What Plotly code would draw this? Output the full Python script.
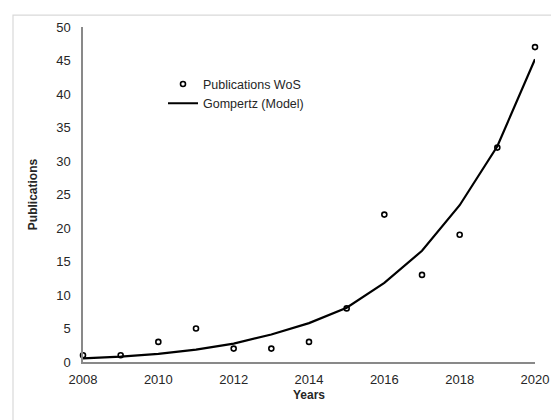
import plotly.graph_objects as go

years = [2008, 2009, 2010, 2011, 2012, 2013, 2014, 2015, 2016, 2017, 2018, 2019, 2020]
publications_wos = [1, 1, 3, 5, 2, 2, 3, 8, 22, 13, 19, 32, 47]
gompertz_model = [0.55, 0.8, 1.2, 1.85, 2.75, 4.1, 5.8, 8.1, 11.8, 16.6, 23.4, 32.2, 45.2]

FONT = "Liberation Sans, Arial, Helvetica, sans-serif"
TXT = "#262626"

# page body has an 8px margin; plot area: x 83..535, y 22..362 on page
L, T = 75, 14
PW, PH = 452, 340

fig = go.Figure()
fig.add_trace(go.Scatter(
    x=years, y=publications_wos, mode="markers", name="Publications WoS",
    marker=dict(symbol="circle-open", size=5, color="black", line=dict(width=1.6, color="black")),
    cliponaxis=False,
))
fig.add_trace(go.Scatter(
    x=years, y=gompertz_model, mode="lines", name="Gompertz (Model)",
    line=dict(color="black", width=2.2), cliponaxis=False,
))

fig.update_layout(
    width=559, height=420,
    margin=dict(l=L, r=559 - L - PW, t=T, b=420 - T - PH),
    paper_bgcolor="white", plot_bgcolor="white",
    font=dict(family=FONT, size=13, color=TXT),
    showlegend=True,
    legend=dict(x=(155 - L) / PW, y=1 - (57 - T) / PH, xanchor="left", yanchor="top",
                bgcolor="rgba(0,0,0,0)", font=dict(size=12.5, color=TXT),
                tracegroupgap=0),
    xaxis=dict(range=[2008, 2020], tickmode="linear", tick0=2008, dtick=2,
               showgrid=False, zeroline=False, showline=True, linecolor="#898989", linewidth=1.5,
               ticks="outside", ticklen=5, tickcolor="rgba(0,0,0,0)",
               tickfont=dict(size=13),
               title=dict(text="<b>Years</b>", standoff=4, font=dict(size=12, color=TXT))),
    yaxis=dict(range=[0, 50], tickmode="linear", tick0=0, dtick=5,
               showgrid=False, zeroline=False, showline=True, linecolor="#898989", linewidth=1.5,
               ticks="outside", ticklen=8, tickcolor="rgba(0,0,0,0)",
               tickfont=dict(size=13),
               title=dict(text="<b>Publications</b>", standoff=16, font=dict(size=12, color=TXT))),
    shapes=[dict(type="rect", xref="paper", yref="paper",
                 x0=(5 - L) / PW, y0=-1.0, x1=1.2, y1=(T + PH - 2) / PH,
                 line=dict(color="#d9d9d9", width=1.2), fillcolor="rgba(0,0,0,0)", layer="below")],
)

fig.write_html("out.html")
